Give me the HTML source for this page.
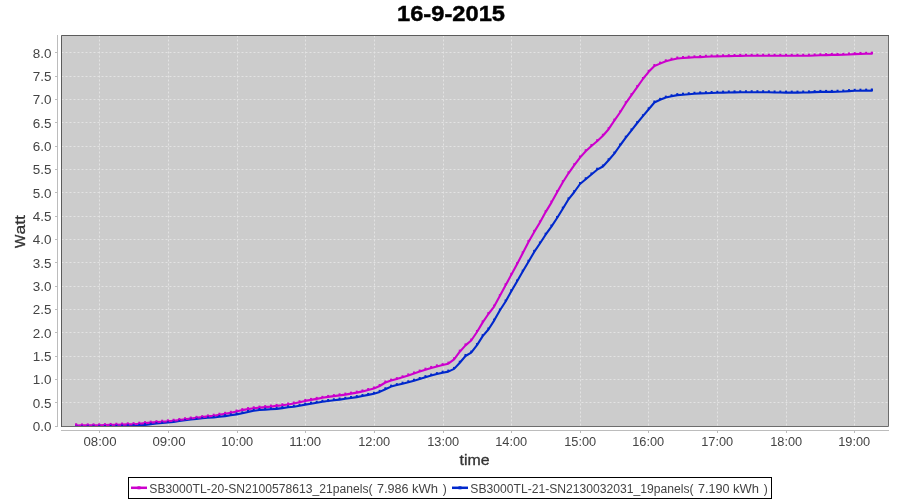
<!DOCTYPE html>
<html><head><meta charset="utf-8"><style>
html,body{margin:0;padding:0;background:#fff;width:900px;height:500px;overflow:hidden}
svg{display:block;will-change:transform}
text{font-family:"Liberation Sans",sans-serif}
.tk{font-size:12px;fill:#444444}
.lg{font-size:12px;fill:#444444}
</style></head><body>
<svg width="900" height="500" viewBox="0 0 900 500">
<defs><clipPath id="clip"><rect x="61" y="35" width="827" height="391"/></clipPath></defs>
<rect x="0" y="0" width="900" height="500" fill="#ffffff"/>
<text x="451" y="21" text-anchor="middle" font-weight="bold" font-size="22.5" fill="#000" stroke="#000" stroke-width="0.45" textLength="108" lengthAdjust="spacingAndGlyphs">16-9-2015</text>
<rect x="61" y="35" width="827" height="391" fill="#cccccc"/>
<line x1="99.5" y1="35.5" x2="99.5" y2="426" stroke="#e3e3e3" stroke-width="1" stroke-dasharray="2,2"/>
<line x1="168.5" y1="35.5" x2="168.5" y2="426" stroke="#e3e3e3" stroke-width="1" stroke-dasharray="2,2"/>
<line x1="237.5" y1="35.5" x2="237.5" y2="426" stroke="#e3e3e3" stroke-width="1" stroke-dasharray="2,2"/>
<line x1="305.5" y1="35.5" x2="305.5" y2="426" stroke="#e3e3e3" stroke-width="1" stroke-dasharray="2,2"/>
<line x1="374.5" y1="35.5" x2="374.5" y2="426" stroke="#e3e3e3" stroke-width="1" stroke-dasharray="2,2"/>
<line x1="443.5" y1="35.5" x2="443.5" y2="426" stroke="#e3e3e3" stroke-width="1" stroke-dasharray="2,2"/>
<line x1="511.5" y1="35.5" x2="511.5" y2="426" stroke="#e3e3e3" stroke-width="1" stroke-dasharray="2,2"/>
<line x1="580.5" y1="35.5" x2="580.5" y2="426" stroke="#e3e3e3" stroke-width="1" stroke-dasharray="2,2"/>
<line x1="648.5" y1="35.5" x2="648.5" y2="426" stroke="#e3e3e3" stroke-width="1" stroke-dasharray="2,2"/>
<line x1="717.5" y1="35.5" x2="717.5" y2="426" stroke="#e3e3e3" stroke-width="1" stroke-dasharray="2,2"/>
<line x1="786.5" y1="35.5" x2="786.5" y2="426" stroke="#e3e3e3" stroke-width="1" stroke-dasharray="2,2"/>
<line x1="854.5" y1="35.5" x2="854.5" y2="426" stroke="#e3e3e3" stroke-width="1" stroke-dasharray="2,2"/>
<line x1="61.5" y1="402.5" x2="888" y2="402.5" stroke="#e3e3e3" stroke-width="1" stroke-dasharray="2,2"/>
<line x1="61.5" y1="379.5" x2="888" y2="379.5" stroke="#e3e3e3" stroke-width="1" stroke-dasharray="2,2"/>
<line x1="61.5" y1="356.5" x2="888" y2="356.5" stroke="#e3e3e3" stroke-width="1" stroke-dasharray="2,2"/>
<line x1="61.5" y1="332.5" x2="888" y2="332.5" stroke="#e3e3e3" stroke-width="1" stroke-dasharray="2,2"/>
<line x1="61.5" y1="309.5" x2="888" y2="309.5" stroke="#e3e3e3" stroke-width="1" stroke-dasharray="2,2"/>
<line x1="61.5" y1="286.5" x2="888" y2="286.5" stroke="#e3e3e3" stroke-width="1" stroke-dasharray="2,2"/>
<line x1="61.5" y1="262.5" x2="888" y2="262.5" stroke="#e3e3e3" stroke-width="1" stroke-dasharray="2,2"/>
<line x1="61.5" y1="239.5" x2="888" y2="239.5" stroke="#e3e3e3" stroke-width="1" stroke-dasharray="2,2"/>
<line x1="61.5" y1="216.5" x2="888" y2="216.5" stroke="#e3e3e3" stroke-width="1" stroke-dasharray="2,2"/>
<line x1="61.5" y1="192.5" x2="888" y2="192.5" stroke="#e3e3e3" stroke-width="1" stroke-dasharray="2,2"/>
<line x1="61.5" y1="169.5" x2="888" y2="169.5" stroke="#e3e3e3" stroke-width="1" stroke-dasharray="2,2"/>
<line x1="61.5" y1="146.5" x2="888" y2="146.5" stroke="#e3e3e3" stroke-width="1" stroke-dasharray="2,2"/>
<line x1="61.5" y1="122.5" x2="888" y2="122.5" stroke="#e3e3e3" stroke-width="1" stroke-dasharray="2,2"/>
<line x1="61.5" y1="99.5" x2="888" y2="99.5" stroke="#e3e3e3" stroke-width="1" stroke-dasharray="2,2"/>
<line x1="61.5" y1="76.5" x2="888" y2="76.5" stroke="#e3e3e3" stroke-width="1" stroke-dasharray="2,2"/>
<line x1="61.5" y1="52.5" x2="888" y2="52.5" stroke="#e3e3e3" stroke-width="1" stroke-dasharray="2,2"/>
<g clip-path="url(#clip)">
<polyline transform="translate(0.4,0.5)" points="75.6,426.2 75.9,426.2 81.6,426.1 87.3,426.1 93.1,426.0 98.8,425.9 104.5,425.8 110.2,425.7 116.0,425.6 121.7,425.5 127.4,425.4 133.1,425.2 138.9,424.9 144.6,424.4 150.3,423.6 156.0,423.0 161.8,422.4 167.5,422.0 173.2,421.4 178.9,420.4 184.6,419.6 190.4,418.9 196.1,418.4 201.8,417.8 207.5,417.3 213.3,417.0 219.0,416.3 224.7,415.6 230.4,414.8 236.2,413.9 241.9,412.8 247.6,411.4 253.3,410.3 259.1,409.5 264.8,409.1 270.5,408.8 276.2,408.4 281.9,407.6 287.7,406.8 293.4,406.2 299.1,405.3 304.8,404.1 310.6,403.2 316.3,402.2 322.0,401.3 327.7,400.5 333.5,399.8 339.2,399.1 344.9,398.3 350.6,397.5 356.4,396.6 362.1,395.5 367.8,394.4 373.5,393.2 379.3,391.4 385.0,388.7 390.7,386.1 396.4,384.6 402.1,383.2 407.9,381.8 413.6,380.2 419.3,378.5 425.0,376.7 430.8,375.1 436.5,373.6 442.2,372.2 447.9,371.1 453.7,368.4 459.4,362.2 465.1,355.5 470.8,352.1 476.6,344.6 482.3,335.6 488.0,329.0 493.7,320.1 499.4,310.0 505.2,301.0 510.9,290.7 516.6,281.0 522.3,271.1 528.1,261.3 533.8,251.4 539.5,243.0 545.2,234.2 551.0,226.1 556.7,217.5 562.4,208.2 568.1,198.8 573.9,191.5 579.6,183.5 585.3,178.7 591.0,174.0 596.7,169.2 602.5,166.0 608.2,159.8 613.9,153.1 619.6,145.0 625.4,137.2 631.1,129.9 636.8,122.5 642.5,115.7 648.3,108.8 654.0,102.0 659.7,99.3 665.4,97.1 671.2,95.8 676.9,94.6 682.6,94.2 688.3,93.7 694.0,93.3 699.8,92.9 705.5,92.7 711.2,92.5 716.9,92.3 722.7,92.1 728.4,92.0 734.1,91.9 739.8,91.8 745.6,91.8 751.3,91.7 757.0,91.7 762.7,91.7 768.5,91.8 774.2,92.0 779.9,92.0 785.6,92.1 791.4,92.1 797.1,92.1 802.8,92.0 808.5,91.9 814.2,91.6 820.0,91.4 825.7,91.4 831.4,91.4 837.1,91.2 842.9,91.0 848.6,90.6 854.3,90.3 860.0,90.2 865.8,90.1 871.5,90.2 871.4,90.2" fill="none" stroke="#0028cc" stroke-width="2.1" stroke-linejoin="round"/>
<polyline transform="translate(0.4,0.5)" points="75.6,425.0 75.9,425.0 81.6,424.9 87.3,424.9 93.1,424.9 98.8,424.8 104.5,424.6 110.2,424.4 116.0,424.3 121.7,424.1 127.4,423.9 133.1,423.7 138.9,423.2 144.6,422.6 150.3,422.1 156.0,421.6 161.8,421.2 167.5,420.8 173.2,420.2 178.9,419.5 184.6,418.8 190.4,418.0 196.1,417.3 201.8,416.6 207.5,415.9 213.3,415.2 219.0,414.3 224.7,413.3 230.4,412.3 236.2,411.0 241.9,409.6 247.6,408.6 253.3,407.8 259.1,407.1 264.8,406.6 270.5,406.1 276.2,405.4 281.9,404.8 287.7,404.0 293.4,403.0 299.1,401.8 304.8,400.4 310.6,399.4 316.3,398.4 322.0,397.3 327.7,396.4 333.5,395.6 339.2,394.9 344.9,394.1 350.6,393.1 356.4,392.1 362.1,390.9 367.8,389.5 373.5,388.0 379.3,385.5 385.0,382.0 390.7,380.1 396.4,378.6 402.1,376.8 407.9,374.9 413.6,373.0 419.3,371.1 425.0,369.2 430.8,367.4 436.5,365.9 442.2,364.6 447.9,363.2 453.7,358.8 459.4,351.2 465.1,344.9 470.8,340.0 476.6,331.5 482.3,321.9 488.0,313.5 493.7,306.1 499.4,295.6 505.2,284.8 510.9,274.3 516.6,263.7 522.3,252.8 528.1,241.4 533.8,231.4 539.5,222.0 545.2,211.6 551.0,202.1 556.7,191.7 562.4,181.7 568.1,172.8 573.9,164.7 579.6,157.1 585.3,150.7 591.0,145.5 596.7,140.7 602.5,135.3 608.2,128.7 613.9,120.1 619.6,112.0 625.4,102.7 631.1,94.6 636.8,86.6 642.5,78.5 648.3,71.3 654.0,65.5 659.7,63.1 665.4,60.8 671.2,59.2 676.9,58.0 682.6,57.5 688.3,57.1 694.0,56.8 699.8,56.6 705.5,56.3 711.2,56.0 716.9,55.9 722.7,55.7 728.4,55.6 734.1,55.5 739.8,55.4 745.6,55.3 751.3,55.3 757.0,55.3 762.7,55.2 768.5,55.2 774.2,55.3 779.9,55.3 785.6,55.3 791.4,55.3 797.1,55.3 802.8,55.2 808.5,55.2 814.2,55.0 820.0,54.8 825.7,54.6 831.4,54.4 837.1,54.4 842.9,54.3 848.6,54.0 854.3,53.6 860.0,53.4 865.8,53.3 871.5,53.3 871.4,53.3" fill="none" stroke="#cc00cc" stroke-width="2.1" stroke-linejoin="round"/>
<rect x="75.00" y="424.70" width="2.0" height="2.0" fill="#0028cc"/>
<rect x="75.30" y="424.69" width="2.0" height="2.0" fill="#0028cc"/>
<rect x="81.02" y="424.62" width="2.0" height="2.0" fill="#0028cc"/>
<rect x="86.75" y="424.55" width="2.0" height="2.0" fill="#0028cc"/>
<rect x="92.47" y="424.48" width="2.0" height="2.0" fill="#0028cc"/>
<rect x="98.19" y="424.41" width="2.0" height="2.0" fill="#0028cc"/>
<rect x="103.92" y="424.31" width="2.0" height="2.0" fill="#0028cc"/>
<rect x="109.64" y="424.20" width="2.0" height="2.0" fill="#0028cc"/>
<rect x="115.37" y="424.08" width="2.0" height="2.0" fill="#0028cc"/>
<rect x="121.09" y="423.97" width="2.0" height="2.0" fill="#0028cc"/>
<rect x="126.81" y="423.85" width="2.0" height="2.0" fill="#0028cc"/>
<rect x="132.54" y="423.74" width="2.0" height="2.0" fill="#0028cc"/>
<rect x="138.26" y="423.40" width="2.0" height="2.0" fill="#0028cc"/>
<rect x="143.98" y="422.91" width="2.0" height="2.0" fill="#0028cc"/>
<rect x="149.71" y="422.14" width="2.0" height="2.0" fill="#0028cc"/>
<rect x="155.43" y="421.47" width="2.0" height="2.0" fill="#0028cc"/>
<rect x="161.15" y="420.90" width="2.0" height="2.0" fill="#0028cc"/>
<rect x="166.88" y="420.51" width="2.0" height="2.0" fill="#0028cc"/>
<rect x="172.60" y="419.86" width="2.0" height="2.0" fill="#0028cc"/>
<rect x="178.32" y="418.88" width="2.0" height="2.0" fill="#0028cc"/>
<rect x="184.05" y="418.09" width="2.0" height="2.0" fill="#0028cc"/>
<rect x="189.77" y="417.41" width="2.0" height="2.0" fill="#0028cc"/>
<rect x="195.50" y="416.90" width="2.0" height="2.0" fill="#0028cc"/>
<rect x="201.22" y="416.33" width="2.0" height="2.0" fill="#0028cc"/>
<rect x="206.94" y="415.81" width="2.0" height="2.0" fill="#0028cc"/>
<rect x="212.67" y="415.45" width="2.0" height="2.0" fill="#0028cc"/>
<rect x="218.39" y="414.80" width="2.0" height="2.0" fill="#0028cc"/>
<rect x="224.11" y="414.13" width="2.0" height="2.0" fill="#0028cc"/>
<rect x="229.84" y="413.30" width="2.0" height="2.0" fill="#0028cc"/>
<rect x="235.56" y="412.35" width="2.0" height="2.0" fill="#0028cc"/>
<rect x="241.28" y="411.31" width="2.0" height="2.0" fill="#0028cc"/>
<rect x="247.01" y="409.90" width="2.0" height="2.0" fill="#0028cc"/>
<rect x="252.73" y="408.80" width="2.0" height="2.0" fill="#0028cc"/>
<rect x="258.46" y="408.02" width="2.0" height="2.0" fill="#0028cc"/>
<rect x="264.18" y="407.61" width="2.0" height="2.0" fill="#0028cc"/>
<rect x="269.90" y="407.25" width="2.0" height="2.0" fill="#0028cc"/>
<rect x="275.63" y="406.87" width="2.0" height="2.0" fill="#0028cc"/>
<rect x="281.35" y="406.05" width="2.0" height="2.0" fill="#0028cc"/>
<rect x="287.07" y="405.26" width="2.0" height="2.0" fill="#0028cc"/>
<rect x="292.80" y="404.74" width="2.0" height="2.0" fill="#0028cc"/>
<rect x="298.52" y="403.78" width="2.0" height="2.0" fill="#0028cc"/>
<rect x="304.24" y="402.63" width="2.0" height="2.0" fill="#0028cc"/>
<rect x="309.97" y="401.65" width="2.0" height="2.0" fill="#0028cc"/>
<rect x="315.69" y="400.69" width="2.0" height="2.0" fill="#0028cc"/>
<rect x="321.41" y="399.78" width="2.0" height="2.0" fill="#0028cc"/>
<rect x="327.14" y="398.97" width="2.0" height="2.0" fill="#0028cc"/>
<rect x="332.86" y="398.28" width="2.0" height="2.0" fill="#0028cc"/>
<rect x="338.59" y="397.56" width="2.0" height="2.0" fill="#0028cc"/>
<rect x="344.31" y="396.81" width="2.0" height="2.0" fill="#0028cc"/>
<rect x="350.03" y="395.96" width="2.0" height="2.0" fill="#0028cc"/>
<rect x="355.76" y="395.07" width="2.0" height="2.0" fill="#0028cc"/>
<rect x="361.48" y="394.05" width="2.0" height="2.0" fill="#0028cc"/>
<rect x="367.20" y="392.91" width="2.0" height="2.0" fill="#0028cc"/>
<rect x="372.93" y="391.75" width="2.0" height="2.0" fill="#0028cc"/>
<rect x="378.65" y="389.88" width="2.0" height="2.0" fill="#0028cc"/>
<rect x="384.37" y="387.24" width="2.0" height="2.0" fill="#0028cc"/>
<rect x="390.10" y="384.64" width="2.0" height="2.0" fill="#0028cc"/>
<rect x="395.82" y="383.14" width="2.0" height="2.0" fill="#0028cc"/>
<rect x="401.55" y="381.71" width="2.0" height="2.0" fill="#0028cc"/>
<rect x="407.27" y="380.28" width="2.0" height="2.0" fill="#0028cc"/>
<rect x="412.99" y="378.70" width="2.0" height="2.0" fill="#0028cc"/>
<rect x="418.72" y="377.01" width="2.0" height="2.0" fill="#0028cc"/>
<rect x="424.44" y="375.15" width="2.0" height="2.0" fill="#0028cc"/>
<rect x="430.16" y="373.56" width="2.0" height="2.0" fill="#0028cc"/>
<rect x="435.89" y="372.13" width="2.0" height="2.0" fill="#0028cc"/>
<rect x="441.61" y="370.70" width="2.0" height="2.0" fill="#0028cc"/>
<rect x="447.33" y="369.60" width="2.0" height="2.0" fill="#0028cc"/>
<rect x="453.06" y="366.92" width="2.0" height="2.0" fill="#0028cc"/>
<rect x="458.78" y="360.73" width="2.0" height="2.0" fill="#0028cc"/>
<rect x="464.50" y="353.97" width="2.0" height="2.0" fill="#0028cc"/>
<rect x="470.23" y="350.59" width="2.0" height="2.0" fill="#0028cc"/>
<rect x="475.95" y="343.10" width="2.0" height="2.0" fill="#0028cc"/>
<rect x="481.68" y="334.15" width="2.0" height="2.0" fill="#0028cc"/>
<rect x="487.40" y="327.50" width="2.0" height="2.0" fill="#0028cc"/>
<rect x="493.12" y="318.61" width="2.0" height="2.0" fill="#0028cc"/>
<rect x="498.85" y="308.48" width="2.0" height="2.0" fill="#0028cc"/>
<rect x="504.57" y="299.51" width="2.0" height="2.0" fill="#0028cc"/>
<rect x="510.29" y="289.19" width="2.0" height="2.0" fill="#0028cc"/>
<rect x="516.02" y="279.49" width="2.0" height="2.0" fill="#0028cc"/>
<rect x="521.74" y="269.64" width="2.0" height="2.0" fill="#0028cc"/>
<rect x="527.46" y="259.75" width="2.0" height="2.0" fill="#0028cc"/>
<rect x="533.19" y="249.87" width="2.0" height="2.0" fill="#0028cc"/>
<rect x="538.91" y="241.48" width="2.0" height="2.0" fill="#0028cc"/>
<rect x="544.64" y="232.71" width="2.0" height="2.0" fill="#0028cc"/>
<rect x="550.36" y="224.56" width="2.0" height="2.0" fill="#0028cc"/>
<rect x="556.08" y="215.98" width="2.0" height="2.0" fill="#0028cc"/>
<rect x="561.81" y="206.65" width="2.0" height="2.0" fill="#0028cc"/>
<rect x="567.53" y="197.34" width="2.0" height="2.0" fill="#0028cc"/>
<rect x="573.25" y="189.99" width="2.0" height="2.0" fill="#0028cc"/>
<rect x="578.98" y="182.02" width="2.0" height="2.0" fill="#0028cc"/>
<rect x="584.70" y="177.25" width="2.0" height="2.0" fill="#0028cc"/>
<rect x="590.42" y="172.48" width="2.0" height="2.0" fill="#0028cc"/>
<rect x="596.15" y="167.71" width="2.0" height="2.0" fill="#0028cc"/>
<rect x="601.87" y="164.52" width="2.0" height="2.0" fill="#0028cc"/>
<rect x="607.59" y="158.27" width="2.0" height="2.0" fill="#0028cc"/>
<rect x="613.32" y="151.60" width="2.0" height="2.0" fill="#0028cc"/>
<rect x="619.04" y="143.51" width="2.0" height="2.0" fill="#0028cc"/>
<rect x="624.77" y="135.68" width="2.0" height="2.0" fill="#0028cc"/>
<rect x="630.49" y="128.39" width="2.0" height="2.0" fill="#0028cc"/>
<rect x="636.21" y="121.04" width="2.0" height="2.0" fill="#0028cc"/>
<rect x="641.94" y="114.25" width="2.0" height="2.0" fill="#0028cc"/>
<rect x="647.66" y="107.29" width="2.0" height="2.0" fill="#0028cc"/>
<rect x="653.38" y="100.52" width="2.0" height="2.0" fill="#0028cc"/>
<rect x="659.11" y="97.84" width="2.0" height="2.0" fill="#0028cc"/>
<rect x="664.83" y="95.63" width="2.0" height="2.0" fill="#0028cc"/>
<rect x="670.55" y="94.27" width="2.0" height="2.0" fill="#0028cc"/>
<rect x="676.28" y="93.12" width="2.0" height="2.0" fill="#0028cc"/>
<rect x="682.00" y="92.67" width="2.0" height="2.0" fill="#0028cc"/>
<rect x="687.73" y="92.22" width="2.0" height="2.0" fill="#0028cc"/>
<rect x="693.45" y="91.76" width="2.0" height="2.0" fill="#0028cc"/>
<rect x="699.17" y="91.41" width="2.0" height="2.0" fill="#0028cc"/>
<rect x="704.90" y="91.20" width="2.0" height="2.0" fill="#0028cc"/>
<rect x="710.62" y="90.99" width="2.0" height="2.0" fill="#0028cc"/>
<rect x="716.34" y="90.79" width="2.0" height="2.0" fill="#0028cc"/>
<rect x="722.07" y="90.61" width="2.0" height="2.0" fill="#0028cc"/>
<rect x="727.79" y="90.46" width="2.0" height="2.0" fill="#0028cc"/>
<rect x="733.51" y="90.37" width="2.0" height="2.0" fill="#0028cc"/>
<rect x="739.24" y="90.32" width="2.0" height="2.0" fill="#0028cc"/>
<rect x="744.96" y="90.27" width="2.0" height="2.0" fill="#0028cc"/>
<rect x="750.68" y="90.21" width="2.0" height="2.0" fill="#0028cc"/>
<rect x="756.41" y="90.20" width="2.0" height="2.0" fill="#0028cc"/>
<rect x="762.13" y="90.20" width="2.0" height="2.0" fill="#0028cc"/>
<rect x="767.86" y="90.32" width="2.0" height="2.0" fill="#0028cc"/>
<rect x="773.58" y="90.48" width="2.0" height="2.0" fill="#0028cc"/>
<rect x="779.30" y="90.54" width="2.0" height="2.0" fill="#0028cc"/>
<rect x="785.03" y="90.60" width="2.0" height="2.0" fill="#0028cc"/>
<rect x="790.75" y="90.60" width="2.0" height="2.0" fill="#0028cc"/>
<rect x="796.47" y="90.60" width="2.0" height="2.0" fill="#0028cc"/>
<rect x="802.20" y="90.50" width="2.0" height="2.0" fill="#0028cc"/>
<rect x="807.92" y="90.39" width="2.0" height="2.0" fill="#0028cc"/>
<rect x="813.64" y="90.13" width="2.0" height="2.0" fill="#0028cc"/>
<rect x="819.37" y="89.90" width="2.0" height="2.0" fill="#0028cc"/>
<rect x="825.09" y="89.90" width="2.0" height="2.0" fill="#0028cc"/>
<rect x="830.82" y="89.88" width="2.0" height="2.0" fill="#0028cc"/>
<rect x="836.54" y="89.72" width="2.0" height="2.0" fill="#0028cc"/>
<rect x="842.26" y="89.52" width="2.0" height="2.0" fill="#0028cc"/>
<rect x="847.99" y="89.10" width="2.0" height="2.0" fill="#0028cc"/>
<rect x="853.71" y="88.77" width="2.0" height="2.0" fill="#0028cc"/>
<rect x="859.43" y="88.67" width="2.0" height="2.0" fill="#0028cc"/>
<rect x="865.16" y="88.62" width="2.0" height="2.0" fill="#0028cc"/>
<rect x="870.88" y="88.69" width="2.0" height="2.0" fill="#0028cc"/>
<rect x="870.80" y="88.68" width="2.0" height="2.0" fill="#0028cc"/>
<rect x="75.00" y="423.50" width="2.0" height="2.0" fill="#cc00cc"/>
<rect x="75.30" y="423.50" width="2.0" height="2.0" fill="#cc00cc"/>
<rect x="81.02" y="423.45" width="2.0" height="2.0" fill="#cc00cc"/>
<rect x="86.75" y="423.40" width="2.0" height="2.0" fill="#cc00cc"/>
<rect x="92.47" y="423.36" width="2.0" height="2.0" fill="#cc00cc"/>
<rect x="98.19" y="423.31" width="2.0" height="2.0" fill="#cc00cc"/>
<rect x="103.92" y="423.15" width="2.0" height="2.0" fill="#cc00cc"/>
<rect x="109.64" y="422.95" width="2.0" height="2.0" fill="#cc00cc"/>
<rect x="115.37" y="422.75" width="2.0" height="2.0" fill="#cc00cc"/>
<rect x="121.09" y="422.56" width="2.0" height="2.0" fill="#cc00cc"/>
<rect x="126.81" y="422.36" width="2.0" height="2.0" fill="#cc00cc"/>
<rect x="132.54" y="422.16" width="2.0" height="2.0" fill="#cc00cc"/>
<rect x="138.26" y="421.71" width="2.0" height="2.0" fill="#cc00cc"/>
<rect x="143.98" y="421.14" width="2.0" height="2.0" fill="#cc00cc"/>
<rect x="149.71" y="420.62" width="2.0" height="2.0" fill="#cc00cc"/>
<rect x="155.43" y="420.15" width="2.0" height="2.0" fill="#cc00cc"/>
<rect x="161.15" y="419.70" width="2.0" height="2.0" fill="#cc00cc"/>
<rect x="166.88" y="419.31" width="2.0" height="2.0" fill="#cc00cc"/>
<rect x="172.60" y="418.75" width="2.0" height="2.0" fill="#cc00cc"/>
<rect x="178.32" y="417.96" width="2.0" height="2.0" fill="#cc00cc"/>
<rect x="184.05" y="417.25" width="2.0" height="2.0" fill="#cc00cc"/>
<rect x="189.77" y="416.54" width="2.0" height="2.0" fill="#cc00cc"/>
<rect x="195.50" y="415.84" width="2.0" height="2.0" fill="#cc00cc"/>
<rect x="201.22" y="415.13" width="2.0" height="2.0" fill="#cc00cc"/>
<rect x="206.94" y="414.42" width="2.0" height="2.0" fill="#cc00cc"/>
<rect x="212.67" y="413.70" width="2.0" height="2.0" fill="#cc00cc"/>
<rect x="218.39" y="412.75" width="2.0" height="2.0" fill="#cc00cc"/>
<rect x="224.11" y="411.80" width="2.0" height="2.0" fill="#cc00cc"/>
<rect x="229.84" y="410.78" width="2.0" height="2.0" fill="#cc00cc"/>
<rect x="235.56" y="409.53" width="2.0" height="2.0" fill="#cc00cc"/>
<rect x="241.28" y="408.13" width="2.0" height="2.0" fill="#cc00cc"/>
<rect x="247.01" y="407.10" width="2.0" height="2.0" fill="#cc00cc"/>
<rect x="252.73" y="406.26" width="2.0" height="2.0" fill="#cc00cc"/>
<rect x="258.46" y="405.61" width="2.0" height="2.0" fill="#cc00cc"/>
<rect x="264.18" y="405.09" width="2.0" height="2.0" fill="#cc00cc"/>
<rect x="269.90" y="404.55" width="2.0" height="2.0" fill="#cc00cc"/>
<rect x="275.63" y="403.91" width="2.0" height="2.0" fill="#cc00cc"/>
<rect x="281.35" y="403.27" width="2.0" height="2.0" fill="#cc00cc"/>
<rect x="287.07" y="402.52" width="2.0" height="2.0" fill="#cc00cc"/>
<rect x="292.80" y="401.49" width="2.0" height="2.0" fill="#cc00cc"/>
<rect x="298.52" y="400.25" width="2.0" height="2.0" fill="#cc00cc"/>
<rect x="304.24" y="398.94" width="2.0" height="2.0" fill="#cc00cc"/>
<rect x="309.97" y="397.90" width="2.0" height="2.0" fill="#cc00cc"/>
<rect x="315.69" y="396.87" width="2.0" height="2.0" fill="#cc00cc"/>
<rect x="321.41" y="395.84" width="2.0" height="2.0" fill="#cc00cc"/>
<rect x="327.14" y="394.92" width="2.0" height="2.0" fill="#cc00cc"/>
<rect x="332.86" y="394.12" width="2.0" height="2.0" fill="#cc00cc"/>
<rect x="338.59" y="393.36" width="2.0" height="2.0" fill="#cc00cc"/>
<rect x="344.31" y="392.61" width="2.0" height="2.0" fill="#cc00cc"/>
<rect x="350.03" y="391.64" width="2.0" height="2.0" fill="#cc00cc"/>
<rect x="355.76" y="390.63" width="2.0" height="2.0" fill="#cc00cc"/>
<rect x="361.48" y="389.43" width="2.0" height="2.0" fill="#cc00cc"/>
<rect x="367.20" y="388.03" width="2.0" height="2.0" fill="#cc00cc"/>
<rect x="372.93" y="386.51" width="2.0" height="2.0" fill="#cc00cc"/>
<rect x="378.65" y="383.98" width="2.0" height="2.0" fill="#cc00cc"/>
<rect x="384.37" y="380.52" width="2.0" height="2.0" fill="#cc00cc"/>
<rect x="390.10" y="378.60" width="2.0" height="2.0" fill="#cc00cc"/>
<rect x="395.82" y="377.14" width="2.0" height="2.0" fill="#cc00cc"/>
<rect x="401.55" y="375.28" width="2.0" height="2.0" fill="#cc00cc"/>
<rect x="407.27" y="373.38" width="2.0" height="2.0" fill="#cc00cc"/>
<rect x="412.99" y="371.47" width="2.0" height="2.0" fill="#cc00cc"/>
<rect x="418.72" y="369.56" width="2.0" height="2.0" fill="#cc00cc"/>
<rect x="424.44" y="367.65" width="2.0" height="2.0" fill="#cc00cc"/>
<rect x="430.16" y="365.93" width="2.0" height="2.0" fill="#cc00cc"/>
<rect x="435.89" y="364.37" width="2.0" height="2.0" fill="#cc00cc"/>
<rect x="441.61" y="363.14" width="2.0" height="2.0" fill="#cc00cc"/>
<rect x="447.33" y="361.65" width="2.0" height="2.0" fill="#cc00cc"/>
<rect x="453.06" y="357.28" width="2.0" height="2.0" fill="#cc00cc"/>
<rect x="458.78" y="349.66" width="2.0" height="2.0" fill="#cc00cc"/>
<rect x="464.50" y="343.41" width="2.0" height="2.0" fill="#cc00cc"/>
<rect x="470.23" y="338.55" width="2.0" height="2.0" fill="#cc00cc"/>
<rect x="475.95" y="329.98" width="2.0" height="2.0" fill="#cc00cc"/>
<rect x="481.68" y="320.37" width="2.0" height="2.0" fill="#cc00cc"/>
<rect x="487.40" y="312.00" width="2.0" height="2.0" fill="#cc00cc"/>
<rect x="493.12" y="304.59" width="2.0" height="2.0" fill="#cc00cc"/>
<rect x="498.85" y="294.10" width="2.0" height="2.0" fill="#cc00cc"/>
<rect x="504.57" y="283.29" width="2.0" height="2.0" fill="#cc00cc"/>
<rect x="510.29" y="272.82" width="2.0" height="2.0" fill="#cc00cc"/>
<rect x="516.02" y="262.20" width="2.0" height="2.0" fill="#cc00cc"/>
<rect x="521.74" y="251.30" width="2.0" height="2.0" fill="#cc00cc"/>
<rect x="527.46" y="239.89" width="2.0" height="2.0" fill="#cc00cc"/>
<rect x="533.19" y="229.87" width="2.0" height="2.0" fill="#cc00cc"/>
<rect x="538.91" y="220.48" width="2.0" height="2.0" fill="#cc00cc"/>
<rect x="544.64" y="210.11" width="2.0" height="2.0" fill="#cc00cc"/>
<rect x="550.36" y="200.57" width="2.0" height="2.0" fill="#cc00cc"/>
<rect x="556.08" y="190.18" width="2.0" height="2.0" fill="#cc00cc"/>
<rect x="561.81" y="180.16" width="2.0" height="2.0" fill="#cc00cc"/>
<rect x="567.53" y="171.32" width="2.0" height="2.0" fill="#cc00cc"/>
<rect x="573.25" y="163.21" width="2.0" height="2.0" fill="#cc00cc"/>
<rect x="578.98" y="155.56" width="2.0" height="2.0" fill="#cc00cc"/>
<rect x="584.70" y="149.22" width="2.0" height="2.0" fill="#cc00cc"/>
<rect x="590.42" y="143.98" width="2.0" height="2.0" fill="#cc00cc"/>
<rect x="596.15" y="139.21" width="2.0" height="2.0" fill="#cc00cc"/>
<rect x="601.87" y="133.80" width="2.0" height="2.0" fill="#cc00cc"/>
<rect x="607.59" y="127.21" width="2.0" height="2.0" fill="#cc00cc"/>
<rect x="613.32" y="118.62" width="2.0" height="2.0" fill="#cc00cc"/>
<rect x="619.04" y="110.51" width="2.0" height="2.0" fill="#cc00cc"/>
<rect x="624.77" y="101.22" width="2.0" height="2.0" fill="#cc00cc"/>
<rect x="630.49" y="93.08" width="2.0" height="2.0" fill="#cc00cc"/>
<rect x="636.21" y="85.06" width="2.0" height="2.0" fill="#cc00cc"/>
<rect x="641.94" y="76.95" width="2.0" height="2.0" fill="#cc00cc"/>
<rect x="647.66" y="69.80" width="2.0" height="2.0" fill="#cc00cc"/>
<rect x="653.38" y="64.02" width="2.0" height="2.0" fill="#cc00cc"/>
<rect x="659.11" y="61.62" width="2.0" height="2.0" fill="#cc00cc"/>
<rect x="664.83" y="59.33" width="2.0" height="2.0" fill="#cc00cc"/>
<rect x="670.55" y="57.67" width="2.0" height="2.0" fill="#cc00cc"/>
<rect x="676.28" y="56.52" width="2.0" height="2.0" fill="#cc00cc"/>
<rect x="682.00" y="56.01" width="2.0" height="2.0" fill="#cc00cc"/>
<rect x="687.73" y="55.60" width="2.0" height="2.0" fill="#cc00cc"/>
<rect x="693.45" y="55.34" width="2.0" height="2.0" fill="#cc00cc"/>
<rect x="699.17" y="55.06" width="2.0" height="2.0" fill="#cc00cc"/>
<rect x="704.90" y="54.75" width="2.0" height="2.0" fill="#cc00cc"/>
<rect x="710.62" y="54.52" width="2.0" height="2.0" fill="#cc00cc"/>
<rect x="716.34" y="54.37" width="2.0" height="2.0" fill="#cc00cc"/>
<rect x="722.07" y="54.24" width="2.0" height="2.0" fill="#cc00cc"/>
<rect x="727.79" y="54.14" width="2.0" height="2.0" fill="#cc00cc"/>
<rect x="733.51" y="54.01" width="2.0" height="2.0" fill="#cc00cc"/>
<rect x="739.24" y="53.85" width="2.0" height="2.0" fill="#cc00cc"/>
<rect x="744.96" y="53.80" width="2.0" height="2.0" fill="#cc00cc"/>
<rect x="750.68" y="53.80" width="2.0" height="2.0" fill="#cc00cc"/>
<rect x="756.41" y="53.76" width="2.0" height="2.0" fill="#cc00cc"/>
<rect x="762.13" y="53.71" width="2.0" height="2.0" fill="#cc00cc"/>
<rect x="767.86" y="53.74" width="2.0" height="2.0" fill="#cc00cc"/>
<rect x="773.58" y="53.79" width="2.0" height="2.0" fill="#cc00cc"/>
<rect x="779.30" y="53.80" width="2.0" height="2.0" fill="#cc00cc"/>
<rect x="785.03" y="53.80" width="2.0" height="2.0" fill="#cc00cc"/>
<rect x="790.75" y="53.80" width="2.0" height="2.0" fill="#cc00cc"/>
<rect x="796.47" y="53.80" width="2.0" height="2.0" fill="#cc00cc"/>
<rect x="802.20" y="53.75" width="2.0" height="2.0" fill="#cc00cc"/>
<rect x="807.92" y="53.69" width="2.0" height="2.0" fill="#cc00cc"/>
<rect x="813.64" y="53.49" width="2.0" height="2.0" fill="#cc00cc"/>
<rect x="819.37" y="53.28" width="2.0" height="2.0" fill="#cc00cc"/>
<rect x="825.09" y="53.08" width="2.0" height="2.0" fill="#cc00cc"/>
<rect x="830.82" y="52.90" width="2.0" height="2.0" fill="#cc00cc"/>
<rect x="836.54" y="52.90" width="2.0" height="2.0" fill="#cc00cc"/>
<rect x="842.26" y="52.83" width="2.0" height="2.0" fill="#cc00cc"/>
<rect x="847.99" y="52.47" width="2.0" height="2.0" fill="#cc00cc"/>
<rect x="853.71" y="52.15" width="2.0" height="2.0" fill="#cc00cc"/>
<rect x="859.43" y="51.94" width="2.0" height="2.0" fill="#cc00cc"/>
<rect x="865.16" y="51.80" width="2.0" height="2.0" fill="#cc00cc"/>
<rect x="870.88" y="51.80" width="2.0" height="2.0" fill="#cc00cc"/>
<rect x="870.80" y="51.80" width="2.0" height="2.0" fill="#cc00cc"/>
</g>
<path d="M61.5,427 V35.5 H889" fill="none" stroke="#5c5c5c" stroke-width="1"/>
<path d="M888.5,36 V426.5 H62" fill="none" stroke="#6c6c6c" stroke-width="1"/>
<line x1="57.5" y1="35" x2="57.5" y2="427" stroke="#bcbcbc" stroke-width="1"/>
<line x1="61" y1="430.5" x2="889" y2="430.5" stroke="#bcbcbc" stroke-width="1"/>
<line x1="55" y1="426.5" x2="57" y2="426.5" stroke="#bcbcbc" stroke-width="1"/>
<text x="51.5" y="431" text-anchor="end" class="tk" textLength="18.7" lengthAdjust="spacingAndGlyphs">0.0</text>
<line x1="55" y1="402.5" x2="57" y2="402.5" stroke="#bcbcbc" stroke-width="1"/>
<text x="51.5" y="408" text-anchor="end" class="tk" textLength="18.7" lengthAdjust="spacingAndGlyphs">0.5</text>
<line x1="55" y1="379.5" x2="57" y2="379.5" stroke="#bcbcbc" stroke-width="1"/>
<text x="51.5" y="384" text-anchor="end" class="tk" textLength="18.7" lengthAdjust="spacingAndGlyphs">1.0</text>
<line x1="55" y1="356.5" x2="57" y2="356.5" stroke="#bcbcbc" stroke-width="1"/>
<text x="51.5" y="361" text-anchor="end" class="tk" textLength="18.7" lengthAdjust="spacingAndGlyphs">1.5</text>
<line x1="55" y1="332.5" x2="57" y2="332.5" stroke="#bcbcbc" stroke-width="1"/>
<text x="51.5" y="338" text-anchor="end" class="tk" textLength="18.7" lengthAdjust="spacingAndGlyphs">2.0</text>
<line x1="55" y1="309.5" x2="57" y2="309.5" stroke="#bcbcbc" stroke-width="1"/>
<text x="51.5" y="314" text-anchor="end" class="tk" textLength="18.7" lengthAdjust="spacingAndGlyphs">2.5</text>
<line x1="55" y1="286.5" x2="57" y2="286.5" stroke="#bcbcbc" stroke-width="1"/>
<text x="51.5" y="291" text-anchor="end" class="tk" textLength="18.7" lengthAdjust="spacingAndGlyphs">3.0</text>
<line x1="55" y1="262.5" x2="57" y2="262.5" stroke="#bcbcbc" stroke-width="1"/>
<text x="51.5" y="268" text-anchor="end" class="tk" textLength="18.7" lengthAdjust="spacingAndGlyphs">3.5</text>
<line x1="55" y1="239.5" x2="57" y2="239.5" stroke="#bcbcbc" stroke-width="1"/>
<text x="51.5" y="244" text-anchor="end" class="tk" textLength="18.7" lengthAdjust="spacingAndGlyphs">4.0</text>
<line x1="55" y1="216.5" x2="57" y2="216.5" stroke="#bcbcbc" stroke-width="1"/>
<text x="51.5" y="221" text-anchor="end" class="tk" textLength="18.7" lengthAdjust="spacingAndGlyphs">4.5</text>
<line x1="55" y1="192.5" x2="57" y2="192.5" stroke="#bcbcbc" stroke-width="1"/>
<text x="51.5" y="198" text-anchor="end" class="tk" textLength="18.7" lengthAdjust="spacingAndGlyphs">5.0</text>
<line x1="55" y1="169.5" x2="57" y2="169.5" stroke="#bcbcbc" stroke-width="1"/>
<text x="51.5" y="174" text-anchor="end" class="tk" textLength="18.7" lengthAdjust="spacingAndGlyphs">5.5</text>
<line x1="55" y1="146.5" x2="57" y2="146.5" stroke="#bcbcbc" stroke-width="1"/>
<text x="51.5" y="151" text-anchor="end" class="tk" textLength="18.7" lengthAdjust="spacingAndGlyphs">6.0</text>
<line x1="55" y1="122.5" x2="57" y2="122.5" stroke="#bcbcbc" stroke-width="1"/>
<text x="51.5" y="128" text-anchor="end" class="tk" textLength="18.7" lengthAdjust="spacingAndGlyphs">6.5</text>
<line x1="55" y1="99.5" x2="57" y2="99.5" stroke="#bcbcbc" stroke-width="1"/>
<text x="51.5" y="104" text-anchor="end" class="tk" textLength="18.7" lengthAdjust="spacingAndGlyphs">7.0</text>
<line x1="55" y1="76.5" x2="57" y2="76.5" stroke="#bcbcbc" stroke-width="1"/>
<text x="51.5" y="81" text-anchor="end" class="tk" textLength="18.7" lengthAdjust="spacingAndGlyphs">7.5</text>
<line x1="55" y1="52.5" x2="57" y2="52.5" stroke="#bcbcbc" stroke-width="1"/>
<text x="51.5" y="58" text-anchor="end" class="tk" textLength="18.7" lengthAdjust="spacingAndGlyphs">8.0</text>
<line x1="99.5" y1="431" x2="99.5" y2="433" stroke="#bcbcbc" stroke-width="1"/>
<text x="100.0" y="446" text-anchor="middle" class="tk" textLength="33" lengthAdjust="spacingAndGlyphs">08:00</text>
<line x1="168.5" y1="431" x2="168.5" y2="433" stroke="#bcbcbc" stroke-width="1"/>
<text x="169.0" y="446" text-anchor="middle" class="tk" textLength="33" lengthAdjust="spacingAndGlyphs">09:00</text>
<line x1="237.5" y1="431" x2="237.5" y2="433" stroke="#bcbcbc" stroke-width="1"/>
<text x="237.2" y="446" text-anchor="middle" class="tk" textLength="32" lengthAdjust="spacingAndGlyphs">10:00</text>
<line x1="305.5" y1="431" x2="305.5" y2="433" stroke="#bcbcbc" stroke-width="1"/>
<text x="305.2" y="446" text-anchor="middle" class="tk" textLength="32" lengthAdjust="spacingAndGlyphs">11:00</text>
<line x1="374.5" y1="431" x2="374.5" y2="433" stroke="#bcbcbc" stroke-width="1"/>
<text x="374.2" y="446" text-anchor="middle" class="tk" textLength="32" lengthAdjust="spacingAndGlyphs">12:00</text>
<line x1="443.5" y1="431" x2="443.5" y2="433" stroke="#bcbcbc" stroke-width="1"/>
<text x="443.2" y="446" text-anchor="middle" class="tk" textLength="32" lengthAdjust="spacingAndGlyphs">13:00</text>
<line x1="511.5" y1="431" x2="511.5" y2="433" stroke="#bcbcbc" stroke-width="1"/>
<text x="511.2" y="446" text-anchor="middle" class="tk" textLength="32" lengthAdjust="spacingAndGlyphs">14:00</text>
<line x1="580.5" y1="431" x2="580.5" y2="433" stroke="#bcbcbc" stroke-width="1"/>
<text x="580.2" y="446" text-anchor="middle" class="tk" textLength="32" lengthAdjust="spacingAndGlyphs">15:00</text>
<line x1="648.5" y1="431" x2="648.5" y2="433" stroke="#bcbcbc" stroke-width="1"/>
<text x="648.2" y="446" text-anchor="middle" class="tk" textLength="32" lengthAdjust="spacingAndGlyphs">16:00</text>
<line x1="717.5" y1="431" x2="717.5" y2="433" stroke="#bcbcbc" stroke-width="1"/>
<text x="717.2" y="446" text-anchor="middle" class="tk" textLength="32" lengthAdjust="spacingAndGlyphs">17:00</text>
<line x1="786.5" y1="431" x2="786.5" y2="433" stroke="#bcbcbc" stroke-width="1"/>
<text x="786.2" y="446" text-anchor="middle" class="tk" textLength="32" lengthAdjust="spacingAndGlyphs">18:00</text>
<line x1="854.5" y1="431" x2="854.5" y2="433" stroke="#bcbcbc" stroke-width="1"/>
<text x="854.2" y="446" text-anchor="middle" class="tk" textLength="32" lengthAdjust="spacingAndGlyphs">19:00</text>
<text x="474.6" y="465" text-anchor="middle" font-size="14" fill="#333333" stroke="#333333" stroke-width="0.3" textLength="30" lengthAdjust="spacingAndGlyphs">time</text>
<g transform="translate(25.3,247.9) rotate(-90)" font-size="14" fill="#333333" stroke="#333333" stroke-width="0.3">
<text x="0" y="0" textLength="13.4" lengthAdjust="spacingAndGlyphs">W</text>
<text x="13.3" y="0" textLength="19.6" lengthAdjust="spacingAndGlyphs">att</text>
</g>
<rect x="128.5" y="477.5" width="643" height="21" fill="#fff" stroke="#000" stroke-width="1"/>
<line x1="131" y1="487.8" x2="147" y2="487.8" stroke="#cc00cc" stroke-width="2.5"/>
<rect x="137.5" y="486.3" width="3" height="3" fill="#cc00cc"/>
<text x="149.3" y="493" class="lg" textLength="223.3" lengthAdjust="spacingAndGlyphs">SB3000TL-20-SN2100578613_21panels(</text>
<text x="377.0" y="493" class="lg" textLength="31.5" lengthAdjust="spacingAndGlyphs">7.986</text>
<text x="412.0" y="493" class="lg" textLength="26.0" lengthAdjust="spacingAndGlyphs">kWh</text>
<text x="442.8" y="493" class="lg" textLength="4.0" lengthAdjust="spacingAndGlyphs">)</text>
<line x1="452" y1="487.8" x2="468" y2="487.8" stroke="#0028cc" stroke-width="2.5"/>
<rect x="458.5" y="486.3" width="3" height="3" fill="#0028cc"/>
<text x="470.3" y="493" class="lg" textLength="223.3" lengthAdjust="spacingAndGlyphs">SB3000TL-21-SN2130032031_19panels(</text>
<text x="698.0" y="493" class="lg" textLength="31.5" lengthAdjust="spacingAndGlyphs">7.190</text>
<text x="733.0" y="493" class="lg" textLength="26.0" lengthAdjust="spacingAndGlyphs">kWh</text>
<text x="763.8" y="493" class="lg" textLength="4.0" lengthAdjust="spacingAndGlyphs">)</text>
</svg>
</body></html>
